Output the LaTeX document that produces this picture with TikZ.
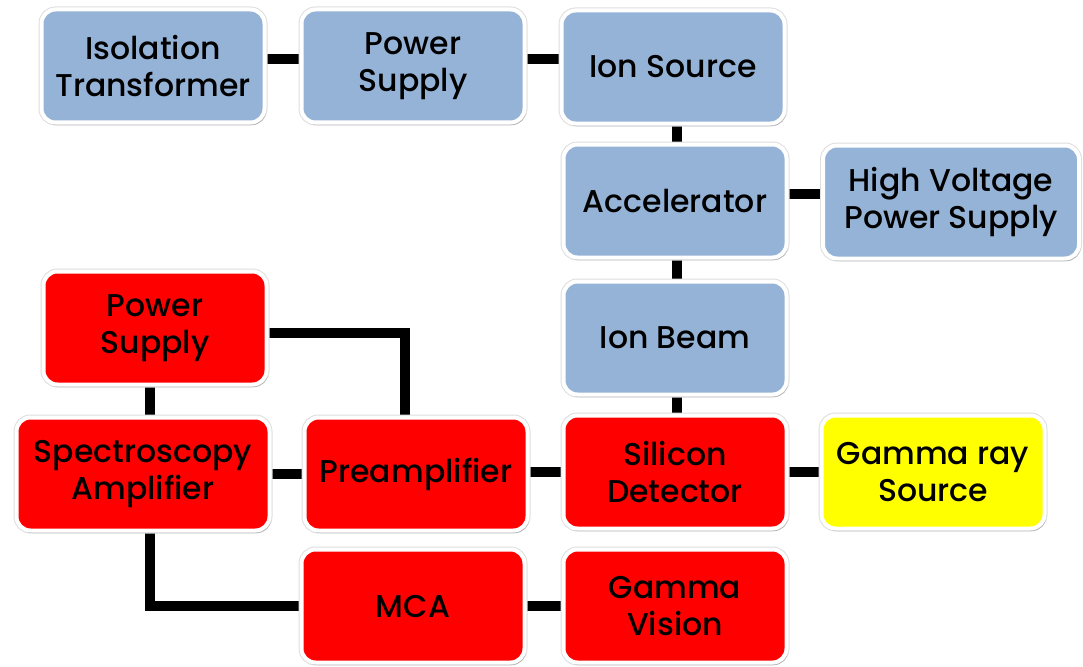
\documentclass[tikz,border=0pt]{standalone}
\usepackage{fontspec}
\setmainfont{Poppins}
\newfontfamily\boxfont{Poppins Medium}
\usetikzlibrary{shadows,backgrounds}
\definecolor{boxblue}{RGB}{149,179,215}
\definecolor{boxred}{RGB}{255,0,0}
\definecolor{boxyellow}{RGB}{255,255,0}
\tikzset{
  blk/.style={draw=white, line width=4pt, rounded corners=14pt, minimum width=223pt, minimum height=113pt,
    align=center, inner sep=0pt, text=black,
    font=\boxfont\fontsize{31.5}{37}\selectfont,
    preaction={draw=black!13, line width=6pt},
    drop shadow={shadow xshift=1.5pt, shadow yshift=-2.5pt, opacity=0.3, fill=black!70}},
  blue/.style={blk, fill=boxblue},
  red/.style={blk, fill=boxred},
  yel/.style={blk, fill=boxyellow},
  link/.style={line width=10pt, black}
}
\begin{document}
\begin{tikzpicture}[x=1pt,y=-1pt]
\useasboundingbox (0,0) rectangle (1083,666);
\node[blue] (iso) at (153,66) {Isolation\\Transformer};
\node[blue] (ps1) at (413,66) {Power\\Supply};
\node[blue] (ion) at (673,67) {Ion Source};
\node[blue] (acc) at (675,201) {Accelerator};
\node[blue, minimum width=256pt] (hv) at (951,202) {High Voltage\\Power Supply};
\node[blue] (beam) at (675,338) {Ion Beam};
\node[red] (ps2) at (155,328) {Power\\Supply};
\node[red, minimum width=253pt] (spec) at (143,474) {Spectroscopy\\Amplifier};
\node[red] (pre) at (416,474) {Preamplifier};
\node[red] (si) at (675,472) {Silicon\\Detector};
\node[yel] (gam) at (933,472) {Gamma ray\\Source};
\node[red] (mca) at (413,606) {MCA};
\node[red] (gv) at (675,606) {Gamma\\Vision};
\coordinate (vx) at ([xshift=2]acc.center);
\coordinate (sx) at ([xshift=7]spec.center);
\begin{pgfonlayer}{background}
\draw[link] ([yshift=7]iso.east) -- ([yshift=7]ps1.west);
\draw[link] ([yshift=7]ps1.east) -- ([yshift=7]ion.west |- ps1.east);
\draw[link] (vx |- ion.south) -- (vx |- acc.north);
\draw[link] ([yshift=7]acc.east) -- ([yshift=7]acc.east -| hv.west);
\draw[link] (vx |- acc.south) -- (vx |- beam.north);
\draw[link] (vx |- beam.south) -- (vx |- si.north);
\draw[link] (si.east) -- (si.east -| gam.west);
\draw[link] (si.west) -- (si.west -| pre.east);
\draw[link] (spec.east) -- (spec.east -| pre.west);
\draw[link] (sx |- ps2.south) -- (sx |- spec.north);
\draw[link] ([yshift=-5]ps2.east) -| ([xshift=-11]pre.north);
\draw[link] (sx |- spec.south) |- (mca.west);
\draw[link] (mca.east) -- (gv.west);
\end{pgfonlayer}
\end{tikzpicture}
\end{document}
